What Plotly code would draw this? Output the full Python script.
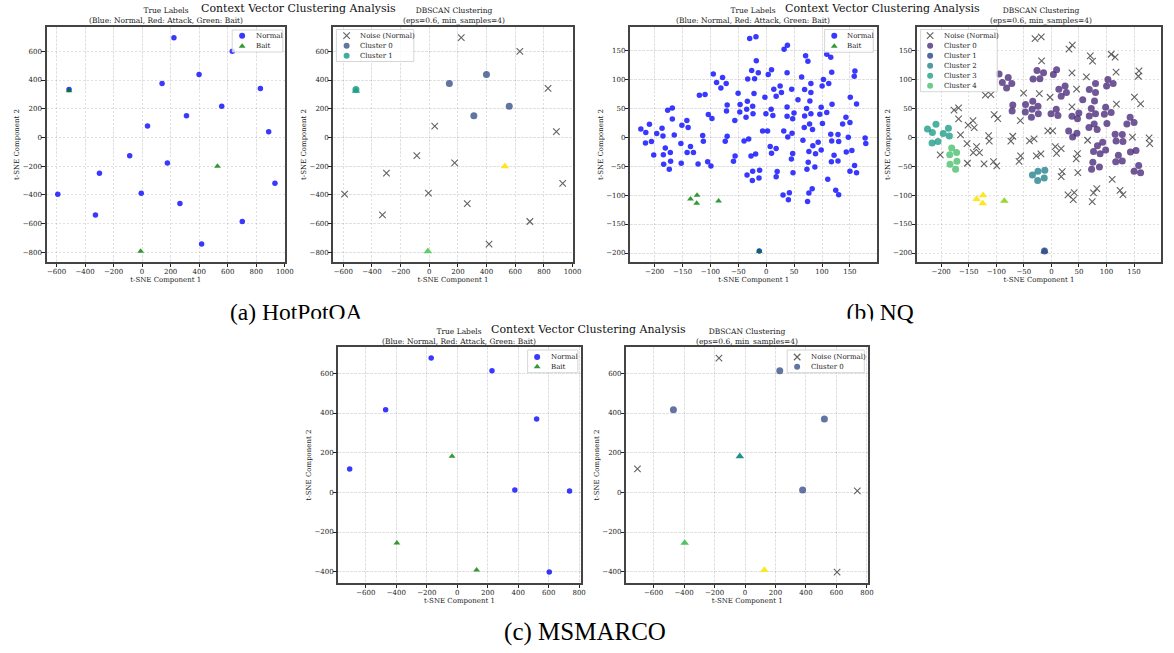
import plotly.graph_objects as go

# ======================= DATA =======================
# ---- (a) HotPotQA ----
hp_x = [-512, 223, 632, 399, 140, 829, 558, 311, 38, 887, -87, 177, -299, 931, -591, -6, 265, -327, 702, 417]
hp_y = [334, 695, 600, 438, 375, 341, 218, 151, 79, 40, -127, -177, -249, -319, -395, -388, -460, -539, -585, -742]
hp_cluster = [1, -1, -1, 0, 0, -1, 0, 0, -1, -1, -1, -1, -1, -1, -1, -1, -1, -1, -1, -1]
hp_bait_x = [-512, 528, -10]
hp_bait_y = [325, -201, -793]
hp_bait_label = [1, 3, 2]

# ---- (b) NQ ----
nq_x = [
    -224.8, -215.9, -209.4, -216.5, -205.8, -196.3, -186.8, -185.1,
    -180.9, -184.5, -183.9, -172.0, -171.4, -173.8,
    -34.4, -24.3, -11.9, -24.9, -13.0,
    -12.5,
    -94.9, -89.0, -81.3, -78.3, -71.8, -70.0, -71.2, -46.9, -47.4, -33.8, -35.0, -36.2, -24.3, -23.7,
    -26.1, -14.2, -33.2, -20.8, 3.6, 9.5, -0.6, 8.9, 11.9, 13.6, 17.8, 24.9, 27.3, 31.4, 38.6, 37.4,
    49.8, 47.4, 46.3, 56.9, 68.8, 80.1, 80.1, 72.4, 78.3, 68.8, 80.1, 68.2, 77.7, 83.0, 100.2, 102.6,
    112.1, 96.1, 98.5, 108.5, 100.8, 76.5, 75.3, 83.6, 73.0, 88.4, 87.2, 93.1, 98.5, 115.7, 117.4,
    116.8, 121.6, 128.7, 129.9, 128.7, 137.0, 142.9, 150.1, 143.5, 153.6, 150.1, 158.4, 161.9,
    -29.7, -18.4, -17.8, 32.0, 38.0, 70.6, 74.7, 108.5, 115.7, 37.4, 63.5, 117.4, 157.8, 159.0,
    -119.8, -109.7, -21.9, -50.4, -2.4, 45.7, -176.7, -168.4, -168.4, -103.8, -97.3, 37.4, 118.0,
    150.7, 161.9, -56.3, -151.2, -142.3, -140.0, -164.9, -113.9, -112.7, -70.0, -73.5, -31.4, -39.7,
    -6.5, 2.4, 7.1, 9.5, 17.8, 65.8, 147.1, 177.3, 178.5, -201.7, -153.0, -135.8, -141.8, -130.5,
    -152.4, -122.2, -105.0, -99.1, -55.8, -58.7, -19.0, -27.3, 47.4, 45.1, 19.6, 17.8, 48.0, 110.3,
    30.2, 41.5, 39.7, 82.4, 76.5, 74.1, 124.6, 129.9,
]
nq_y = [
    14.2, 7.8, 22.2, -10.0, -7.7, 6.1, 15.3, 2.1,
    -18.7, -30.3, -47.0, -26.7, -41.7, -55.5,
    -65.3, -58.9, -57.2, -75.0, -70.5,
    -196.5,
    108.8, 94.4, 84.6, 103.0, 92.4, 55.6, 45.2, 56.2, 43.5, 61.9, 48.1, 34.3, 53.3, 40.1,
    115.1, 111.1, 100.2, 100.5, 108.0, 116.1, 40.1, 48.1, 37.2, 82.7, 70.6, 88.4, 76.9, 10.7, 0.3, 36.0,
    41.8, 31.5, 6.7, 64.3, 82.2, 92.3, 76.8, 49.3, 62.5, 36.6, 40.1, 16.5, 22.8, 13.0, 88.4, 99.4,
    92.4, 39.5, 51.6, 42.4, 23.4, -25.0, -43.4, -14.7, -55.5, -28.9, -51.4, -8.9, -22.1, 5.0, -6.6,
    -42.3, -31.3, 4.4, -7.7, -41.1, 22.8, 34.3, 25.1, -25.6, -23.3, -59.0, -49.2, -61.3,
    170.1, 173.1, 131.6, 151.8, 158.7, 140.2, 131.0, 143.0, 137.9, 110.9, 103.9, 112.0, 105.0, 114.2,
    72.3, 73.5, 75.1, 75.8, 68.8, 82.7, 46.4, 50.4, 31.4, 38.9, 32.0, 52.1, 56.8,
    68.9, 57.3, 28.6, 20.5, 28.6, 16.5, 3.8, 2.6, -7.1, 1.5, -7.1, -3.1, -6.6,
    10.7, 10.7, -16.4, -27.9, -19.8, -5.4, -0.2, -1.4, -11.2, -30.7, -11.2, -16.4, -26.7, -26.7,
    -45.1, -46.3, -42.3, -49.7, -32.5, -41.7, -29.0, -32.5, -28.4, -37.6, -59.5, -68.2, -61.3, -72.8,
    -99.8, -95.8, -107.9, -88.9, -96.4, -111.3, -91.8, -99.3,
]
nq_cluster = [3] * 8 + [4] * 6 + [2] * 5 + [1] + [0] * 74 + [-1] * 78
nq_bait_x = [-135.8, -124.0, -124.6, -85.4, -12.5]
nq_bait_y = [-106.8, -100.4, -114.2, -110.2, -197.1]
nq_bait_label = [6, 6, 6, 5, 1]

# ---- (c) MSMARCO ----
ms_x = [-171, 228, -470, 521, -706, 378, 737, 604]
ms_y = [677, 613, 417, 370, 118, 12, 7, -402]
ms_cluster = [-1, 0, 0, 0, -1, 0, -1, -1]
ms_bait_x = [-34, -396, 127]
ms_bait_y = [182, -255, -392]
ms_bait_label = [1, 2, 3]

# text
suptitle = "Context Vector Clustering Analysis"
title_true = "True Labels<br>(Blue: Normal, Red: Attack, Green: Bait)"
title_db = "DBSCAN Clustering<br>(eps=0.6, min_samples=4)"
captions = ["(a) HotPotQA", "(b) NQ", "(c) MSMARCO"]

# ======================= STYLE =======================
W, H = 1174, 653
FONT = "DejaVu Serif"
BLUE = "rgba(0,0,255,0.78)"
GREEN = "rgba(0,128,0,0.8)"
NOISE = "rgba(70,70,70,0.85)"

hp_colors = {0: "rgba(59,82,139,0.8)", 1: "rgba(31,158,137,0.85)", 2: "rgba(94,201,98,0.95)", 3: "rgba(253,231,37,1)"}
nq_colors = {0: "rgba(72,40,120,0.78)", 1: "rgba(50,80,140,0.85)", 2: "rgba(38,130,142,0.8)",
             3: "rgba(31,158,137,0.8)", 4: "rgba(74,193,109,0.8)", 5: "rgba(150,215,50,1)", 6: "rgba(253,231,37,1)"}
ms_colors = {0: "rgba(59,82,139,0.8)", 1: "rgba(33,145,140,1)", 2: "rgba(80,195,100,1)", 3: "rgba(253,231,37,1)"}

# panel pixel boxes: (left, right, top, bottom)
boxes = {
    1: (47, 287, 27, 262), 2: (336, 577, 27, 262),
    3: (635, 884, 27, 262), 4: (924, 1170, 27, 262),
    5: (341, 585, 347, 583), 6: (631, 875, 347, 583),
}
ranges = {
    "hp": ([-669, 1000], [-867, 769], 200),
    "nq": ([-244, 199], [-215.5, 190], 50),
    "ms": ([-780, 809], [-457, 733], 200),
}
panel_ds = {1: "hp", 2: "hp", 3: "nq", 4: "nq", 5: "ms", 6: "ms"}

fig = go.Figure()


def ax(i):
    return ("x" if i == 1 else f"x{i}"), ("y" if i == 1 else f"y{i}")


def true_panel(i, xs, ys, bx, by, msize):
    xa, ya = ax(i)
    fig.add_trace(go.Scatter(x=xs, y=ys, mode="markers", xaxis=xa, yaxis=ya,
                             marker=dict(symbol="circle", size=msize, color=BLUE, line=dict(width=0))))
    fig.add_trace(go.Scatter(x=bx, y=by, mode="markers", xaxis=xa, yaxis=ya,
                             marker=dict(symbol="triangle-up", size=msize + 0.5, color=GREEN, line=dict(width=0))))


def db_panel(i, xs, ys, cl, bx, by, bl, colors, msize):
    xa, ya = ax(i)
    nx = [x for x, c in zip(xs, cl) if c == -1]
    ny = [y for y, c in zip(ys, cl) if c == -1]
    fig.add_trace(go.Scatter(x=nx, y=ny, mode="markers", xaxis=xa, yaxis=ya,
                             marker=dict(symbol="x-thin", size=msize, line=dict(width=1.1, color=NOISE))))
    for k in sorted(set(c for c in cl if c >= 0)):
        cx = [x for x, c in zip(xs, cl) if c == k]
        cy = [y for y, c in zip(ys, cl) if c == k]
        fig.add_trace(go.Scatter(x=cx, y=cy, mode="markers", xaxis=xa, yaxis=ya,
                                 marker=dict(symbol="circle", size=msize + 0.5, color=colors[k], line=dict(width=0))))
    fig.add_trace(go.Scatter(x=bx, y=by, mode="markers", xaxis=xa, yaxis=ya,
                             marker=dict(symbol="triangle-up", size=msize + 1, color=[colors[b] for b in bl],
                                         line=dict(width=0))))


true_panel(1, hp_x, hp_y, hp_bait_x, hp_bait_y, 5.5)
db_panel(2, hp_x, hp_y, hp_cluster, hp_bait_x, hp_bait_y, hp_bait_label, hp_colors, 6.5)
true_panel(3, nq_x, nq_y, nq_bait_x, nq_bait_y, 5.5)
db_panel(4, nq_x, nq_y, nq_cluster, nq_bait_x, nq_bait_y, nq_bait_label, nq_colors, 6.5)
true_panel(5, ms_x, ms_y, ms_bait_x, ms_bait_y, 5.5)
db_panel(6, ms_x, ms_y, ms_cluster, ms_bait_x, ms_bait_y, ms_bait_label, ms_colors, 6.5)

axis_common = dict(showline=True, mirror=True, linecolor="#444", linewidth=1.5,
                   ticks="outside", ticklen=3.5, tickwidth=0.8, tickcolor="#222",
                   showgrid=True, gridcolor="rgba(0,0,0,0.12)", griddash="2.5px,1.5px", gridwidth=0.7,
                   zeroline=False, tickfont=dict(family=FONT, size=7, color="#222"),
                   ticklabelstandoff=-2)

layout = {}
for i, (l, r, t, b) in boxes.items():
    xr, yr, dt = ranges[panel_ds[i]]
    xk = "xaxis" if i == 1 else f"xaxis{i}"
    yk = "yaxis" if i == 1 else f"yaxis{i}"
    layout[xk] = dict(axis_common, domain=[l / W, r / W], range=xr, dtick=dt, tick0=0,
                      anchor=ax(i)[1],
                      title=dict(text="t-SNE Component 1", font=dict(family=FONT, size=7, color="#222"), standoff=2))
    layout[yk] = dict(axis_common, domain=[1 - b / H, 1 - t / H], range=yr, dtick=dt, tick0=0,
                      anchor=ax(i)[0],
                      title=dict(text="t-SNE Component 2", font=dict(family=FONT, size=7, color="#222"), standoff=2))

# overlay axis in pixel coordinates for legends, captions
layout["xaxis7"] = dict(domain=[0, 1], range=[0, W], visible=False, fixedrange=True)
layout["yaxis7"] = dict(domain=[0, 1], range=[H, 0], visible=False, fixedrange=True)


def ov(**kw):
    fig.add_trace(go.Scatter(xaxis="x7", yaxis="y7", hoverinfo="skip", **kw))


# captions (partly hidden by the lower figure like in the original)
ov(x=[298.5, 887], y=[314, 314], mode="text", text=captions[:2],
   textfont=dict(family="Liberation Serif", size=23.5, color="black"))
ov(x=[288, 878, 878, 288, 288], y=[318.7, 318.7, 342, 342, 318.7], mode="lines", fill="toself",
   fillcolor="white", line=dict(width=0, color="white"))
ov(x=[589.5], y=[634], mode="text", text=[captions[2]],
   textfont=dict(family="Liberation Serif", size=25, color="black"))

annotations = []


def legend(box, mx, tx, rows):
    x0, x1, y0, y1 = box
    ov(x=[x0, x1, x1, x0, x0], y=[y0, y0, y1, y1, y0], mode="lines", fill="toself",
       fillcolor="rgba(255,255,255,0.8)", line=dict(width=0.8, color="#cccccc"))
    for (yy, sym, col, lab) in rows:
        if sym == "x-thin":
            mk = dict(symbol=sym, size=6.5, line=dict(width=1.1, color=col))
        else:
            mk = dict(symbol=sym, size=6, color=col, line=dict(width=0))
        ov(x=[mx], y=[yy], mode="markers", marker=mk)
        annotations.append(dict(x=tx, y=yy, xref="x7", yref="y7", text=lab, showarrow=False,
                                xanchor="left", yanchor="middle",
                                font=dict(family=FONT, size=7, color="#222")))


legend((234, 285, 30, 52), 244, 255.5, [(35.7, "circle", BLUE, "Normal"), (46.2, "triangle-up", GREEN, "Bait")])
legend((339, 417, 29.5, 61.5), 349.3, 361, [(35.7, "x-thin", NOISE, "Noise (Normal)"),
                                             (45.7, "circle", hp_colors[0], "Cluster 0"),
                                             (55.7, "circle", hp_colors[1], "Cluster 1")])
legend((831, 880, 29.5, 52.3), 840.7, 852, [(35.7, "circle", BLUE, "Normal"), (46.2, "triangle-up", GREEN, "Bait")])
legend((927.7, 1005, 29.5, 91.7), 937.3, 949.5, [(35.7, "x-thin", NOISE, "Noise (Normal)"),
                                                 (45.7, "circle", nq_colors[0], "Cluster 0"),
                                                 (55.7, "circle", nq_colors[1], "Cluster 1"),
                                                 (65.7, "circle", nq_colors[2], "Cluster 2"),
                                                 (75.7, "circle", nq_colors[3], "Cluster 3"),
                                                 (85.7, "circle", nq_colors[4], "Cluster 4")])
legend((531.7, 582.3, 350, 372.7), 541.3, 552.8, [(357, "circle", BLUE, "Normal"), (366.7, "triangle-up", GREEN, "Bait")])
legend((793.3, 871, 350, 372.7), 803.3, 815, [(357, "x-thin", NOISE, "Noise (Normal)"),
                                              (366.7, "circle", ms_colors[0], "Cluster 0")])

# titles
for cx, cy in [(300.5, 8.5), (889, 8.5), (593.5, 329)]:
    annotations.append(dict(x=cx, y=cy, xref="x7", yref="y7", text=suptitle, showarrow=False,
                            xanchor="center", yanchor="middle", font=dict(family=FONT, size=11, color="#111")))
for cx, cy, txt in [(167, 15.8, title_true), (457, 15.8, title_db), (759, 15.8, title_true),
                    (1049, 15.8, title_db), (463, 336.5, title_true), (753, 336.5, title_db)]:
    annotations.append(dict(x=cx, y=cy, xref="x7", yref="y7", text=txt, showarrow=False,
                            xanchor="center", yanchor="middle", align="center",
                            font=dict(family=FONT, size=7.5, color="#222")))

fig.update_layout(**layout)
fig.update_layout(width=W, height=H, margin=dict(l=0, r=0, t=0, b=0),
                  paper_bgcolor="white", plot_bgcolor="rgba(0,0,0,0)",
                  showlegend=False, annotations=annotations)

fig.write_html("out.html", config={"displayModeBar": False},
               post_script="document.body.style.margin='0';document.body.style.padding='0';"
                           "document.body.style.overflow='hidden';")
